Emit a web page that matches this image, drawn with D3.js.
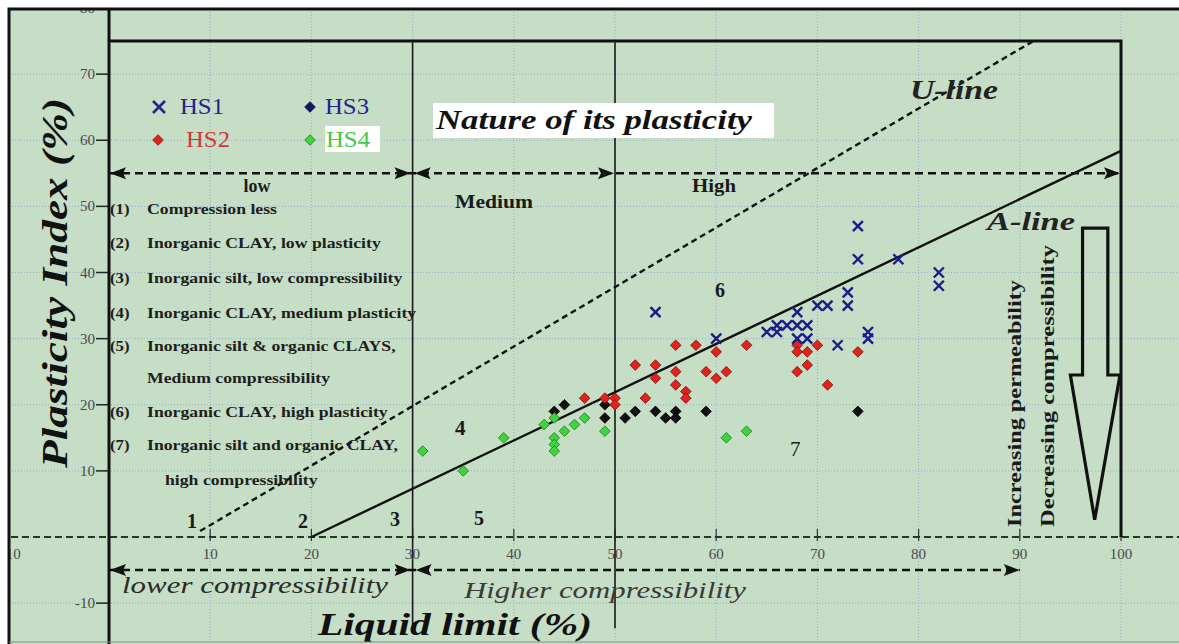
<!DOCTYPE html>
<html>
<head>
<meta charset="utf-8">
<script src="https://cdn.jsdelivr.net/npm/d3@7"></script>
<style>
  html, body { margin: 0; padding: 0; background: #ffffff; }
  svg { display: block; }
  text { font-family: "Liberation Serif", "Times New Roman", "DejaVu Serif", serif; }
</style>
</head>
<body>
<svg id="chart" width="1179" height="644"></svg>
<script>
// ---- Data: liquid limit (LL, %) and plasticity index (PI, %) per sample ----
const hs1 = [[54,34],[60,30],[65,31],[66,32],[66,31],[67,32],[68,34],[68,32],[68,30],
             [69,32],[69,30],[70,35],[71,35],[72,29],[73,37],[73,35],[74,47],[74,42],
             [75,31],[75,30],[78,42],[82,40],[82,38]];
const hs2 = [[47,21],[49,21],[50,21],[50,20],[52,26],[53,21],[54,26],[54,24],[56,29],
             [56,25],[56,23],[57,22],[57,21],[58,29],[59,25],[60,28],[60,24],[61,25],
             [63,29],[68,29],[68,28],[68,25],[69,28],[69,26],[70,29],[71,23],[74,28]];
const hs3 = [[44,19],[45,20],[49,20],[49,18],[51,18],[52,19],[54,19],[55,18],[56,19],
             [56,18],[59,19],[74,19]];
const hs4 = [[31,13],[35,10],[39,15],[43,17],[44,18],[44,15],[44,14],[44,13],[45,16],
             [46,17],[47,18],[49,16],[61,15],[63,16]];

const seriesNames = ["HS1", "HS2", "HS3", "HS4"];
const xTickValues = [-10, 0, 10, 20, 30, 40, 50, 60, 70, 80, 90, 100];
const yTickValues = [-10, 10, 20, 30, 40, 50, 60, 70, 80];

// soil group notes: [number, description]
const zoneNotes = [
  ["(1)", "Compression less"],
  ["(2)", "Inorganic CLAY, low plasticity"],
  ["(3)", "Inorganic silt, low compressibility"],
  ["(4)", "Inorganic CLAY, medium plasticity"],
  ["(5)", "Inorganic silt & organic CLAYS,"],
  ["", "Medium compressibility"],
  ["(6)", "Inorganic CLAY, high plasticity"],
  ["(7)", "Inorganic silt and organic CLAY,"],
  ["", "high compressibility"]
];

// ---- Layout ----
const W = 1179, H = 644;
const svg = d3.select("#chart");
const x = d3.scaleLinear().domain([0, 100]).range([109, 1121]);
const y = d3.scaleLinear().domain([0, 80]).range([537, 8]);

const frameL = 9, frameT = 9;
const bg = "#c5dec5";

svg.append("rect").attr("x", 0).attr("y", 0).attr("width", W).attr("height", H).attr("fill", "#ffffff");

svg.append("defs").append("clipPath").attr("id", "plotClip")
  .append("rect").attr("x", frameL + 1).attr("y", frameT + 1)
  .attr("width", W - frameL).attr("height", H - frameT);

const g = svg.append("g").attr("clip-path", "url(#plotClip)");
g.append("rect").attr("x", frameL).attr("y", frameT).attr("width", W - frameL).attr("height", H - frameT).attr("fill", bg);

// dotted grid
const gridColor = "#98add0";
g.append("g").selectAll("line").data(d3.range(-10, 101, 10)).join("line")
  .attr("x1", d => x(d)).attr("x2", d => x(d)).attr("y1", 0).attr("y2", H)
  .attr("stroke", gridColor).attr("stroke-width", 1).attr("stroke-dasharray", "1,2");
g.append("g").selectAll("line").data(d3.range(-10, 81, 10)).join("line")
  .attr("y1", d => y(d)).attr("y2", d => y(d)).attr("x1", 0).attr("x2", W)
  .attr("stroke", gridColor).attr("stroke-width", 1).attr("stroke-dasharray", "1,2");

// zero line (dashed)
g.append("line").attr("x1", 0).attr("x2", W).attr("y1", y(0)).attr("y2", y(0))
  .attr("stroke", "#1f3a26").attr("stroke-width", 2).attr("stroke-dasharray", "7,4");

// x ticks and labels
g.append("g").selectAll("line").data(xTickValues.filter(d => d > 0)).join("line")
  .attr("x1", d => x(d)).attr("x2", d => x(d)).attr("y1", y(0) - 8).attr("y2", y(0) + 4)
  .attr("stroke", "#333").attr("stroke-width", 1.2);
g.append("g").selectAll("text").data(xTickValues.filter(d => d !== 0)).join("text")
  .attr("x", d => x(d) + (d < 0 ? 3 : 0)).attr("y", y(0) + 22)
  .attr("text-anchor", "middle").attr("font-size", 15).attr("fill", "#4a4a4a")
  .text(d => d);

// y ticks and labels
g.append("g").selectAll("line").data(yTickValues).join("line")
  .attr("x1", x(0) - 13).attr("x2", x(0)).attr("y1", d => y(d)).attr("y2", d => y(d))
  .attr("stroke", "#222").attr("stroke-width", 1.5);
g.append("g").selectAll("text").data(yTickValues).join("text")
  .attr("x", x(0) - 14).attr("y", d => y(d) + 5)
  .attr("text-anchor", "end").attr("font-size", 15).attr("fill", "#4a4a4a")
  .text(d => d);

// inner classification box
g.append("path")
  .attr("d", `M${x(0)},${y(75)}H${x(100)}V${y(0)}`)
  .attr("fill", "none").attr("stroke", "#111").attr("stroke-width", 3);
g.append("line").attr("x1", x(30)).attr("x2", x(30)).attr("y1", y(75)).attr("y2", y(-14.4))
  .attr("stroke", "#1a1a1a").attr("stroke-width", 1.6);
g.append("line").attr("x1", x(50)).attr("x2", x(50)).attr("y1", y(75)).attr("y2", y(-13.8))
  .attr("stroke", "#1a1a1a").attr("stroke-width", 1.6);

// y axis line
g.append("line").attr("x1", x(0)).attr("x2", x(0)).attr("y1", 0).attr("y2", H)
  .attr("stroke", "#111").attr("stroke-width", 3);

// A-line and U-line
const aLine = [[20, 0], [100, 0.73 * 80]];
const uLine = [[9, 0.9], [8 + 75 / 0.9, 75]];
const lineGen = d3.line().x(d => x(d[0])).y(d => y(d[1]));
g.append("path").attr("d", lineGen(aLine)).attr("fill", "none").attr("stroke", "#111").attr("stroke-width", 2.4);
g.append("path").attr("d", lineGen(uLine)).attr("fill", "none").attr("stroke", "#111")
  .attr("stroke-width", 2.4).attr("stroke-dasharray", "6,4");

// dashed range arrows
function arrowHead(px, py, dir) {
  const L = 16, Hh = 6;
  g.append("path")
    .attr("d", `M${px},${py}L${px - dir * L},${py - Hh}L${px - dir * (L - 3)},${py}L${px - dir * L},${py + Hh}Z`)
    .attr("fill", "#111");
}
function dashedRange(v, from, to) {
  g.append("line").attr("x1", x(from)).attr("x2", x(to)).attr("y1", y(v)).attr("y2", y(v))
    .attr("stroke", "#111").attr("stroke-width", 2.4).attr("stroke-dasharray", "8,5");
}
dashedRange(55, 0, 100);
arrowHead(x(0) + 1, y(55), -1);
arrowHead(x(30) - 2, y(55), 1);
arrowHead(x(30) + 2, y(55), -1);
arrowHead(x(50) - 1, y(55), 1);
arrowHead(x(100) - 1, y(55), 1);

dashedRange(-5, 0, 90);
arrowHead(x(0) + 1, y(-5), -1);
arrowHead(x(30) - 2, y(-5), 1);
arrowHead(x(30) + 3, y(-5), -1);
arrowHead(x(90), y(-5), 1);

// big hollow arrow on the right
const bigArrow = [[96.2, 46.7], [98.7, 46.7], [98.7, 24.5], [99.9, 24.5], [97.4, 2.6],
                  [95.0, 24.5], [96.2, 24.5]];
g.append("path").attr("d", lineGen(bigArrow) + "Z")
  .attr("fill", "none").attr("stroke", "#111").attr("stroke-width", 3.2).attr("stroke-linejoin", "miter");

// text helpers
function label(txt, px, py, opts = {}) {
  const t = g.append("text").attr("x", px).attr("y", py)
    .attr("font-size", opts.size || 16)
    .attr("font-weight", opts.weight || "bold")
    .attr("font-style", opts.style || "normal")
    .attr("fill", opts.fill || "#1a1a1a")
    .attr("text-anchor", opts.anchor || "start")
    .text(txt);
  if (opts.len) t.attr("textLength", opts.len).attr("lengthAdjust", "spacingAndGlyphs");
  if (opts.stretch) {
    const n = t.node().getComputedTextLength();
    t.attr("textLength", n * opts.stretch).attr("lengthAdjust", "spacingAndGlyphs");
  }
  if (opts.rotate) t.attr("transform", `rotate(-90,${px},${py})`);
  return t;
}

// zone notes
const noteRows = [49.6, 44.5, 39.2, 33.9, 28.9, 24.1, 18.9, 13.9, 8.6];
zoneNotes.forEach(([num, desc], i) => {
  const py = y(noteRows[i]) + 5;
  if (num) label(num, 110, py, { size: 15, fill: "#1e1e1e", stretch: 1.12 });
  label(desc, i === 8 ? 165 : 147, py, { size: 15, fill: "#1e1e1e", stretch: 1.18 });
});

// plasticity ranges
label("low", 257, 192, { size: 18, anchor: "middle" });
label("Medium", 494, 208, { size: 19, anchor: "middle", len: 78 });
label("High", 714, 192, { size: 18, anchor: "middle", len: 44 });

// nature of plasticity title box
g.append("rect").attr("x", 433).attr("y", 103).attr("width", 341).attr("height", 35).attr("fill", "#ffffff");
label("Nature of its plasticity", 436, 129, { size: 27, style: "italic", len: 316, fill: "#111" });

label("U-line", 910, 99, { size: 27, style: "italic", len: 88, fill: "#222" });
label("A-line", 987, 230, { size: 26, style: "italic", len: 88, fill: "#222" });

// zone numbers
label("1", 187, 528, { size: 20 });
label("2", 298, 528, { size: 20 });
label("3", 390, 526, { size: 20 });
label("4", 455, 435, { size: 21 });
label("5", 474, 525, { size: 20 });
label("6", 715, 297, { size: 20 });
label("7", 790, 456, { size: 21, weight: "normal" });

// vertical notes
label("Increasing permeability", 1021, 527, { size: 19, rotate: true, len: 247 });
label("Decreasing compressibility", 1054, 527, { size: 19, rotate: true, len: 282 });

// compressibility labels
label("lower compressibility", 122, 593, { size: 24, weight: "normal", style: "italic", len: 266, fill: "#2a2a2a" });
label("Higher compressibility", 464, 598, { size: 24, weight: "normal", style: "italic", len: 282, fill: "#3a3a3a" });

// axis titles
label("Liquid limit (%)", 318, 635, { size: 31, style: "italic", len: 274, fill: "#111" });
label("Plasticity Index (%)", 67, 468, { size: 36, style: "italic", len: 370, rotate: true, fill: "#111" });

// ---- Data marks ----
const diamond = d3.symbol().type(d3.symbolDiamond2).size(72);
const styles = {
  HS2: { fill: "#e2231c", stroke: "#7a1010" },
  HS3: { fill: "#101010", stroke: "#000000" },
  HS4: { fill: "#3ed43e", stroke: "#1d7a1d" }
};
function drawDiamonds(data, st) {
  g.append("g").selectAll("path").data(data).join("path")
    .attr("d", diamond)
    .attr("transform", d => `translate(${x(d[0])},${y(d[1])})`)
    .attr("fill", st.fill).attr("stroke", st.stroke).attr("stroke-width", 0.8);
}
drawDiamonds(hs3, styles.HS3);
drawDiamonds(hs4, styles.HS4);
drawDiamonds(hs2, styles.HS2);

const xr = 5;
const hs1Color = "#1c1c88";
g.append("g").selectAll("path").data(hs1).join("path")
  .attr("d", d => `M${x(d[0]) - xr},${y(d[1]) - xr}L${x(d[0]) + xr},${y(d[1]) + xr}M${x(d[0]) - xr},${y(d[1]) + xr}L${x(d[0]) + xr},${y(d[1]) - xr}`)
  .attr("stroke", hs1Color).attr("stroke-width", 2.4).attr("fill", "none");

// ---- Legend ----
const legend = g.append("g");
const legendItems = [
  { name: seriesNames[0], mx: 159, my: 107, tx: 180, color: "#24248a", kind: "x" },
  { name: seriesNames[1], mx: 158, my: 140, tx: 186, color: "#d03a36", kind: "d", fill: "#e2231c", stroke: "#7a1010" },
  { name: seriesNames[2], mx: 310, my: 107, tx: 325, color: "#24248a", kind: "d", fill: "#14146a", stroke: "#0a0a40" },
  { name: seriesNames[3], mx: 310, my: 140, tx: 326, color: "#45c845", kind: "d", fill: "#3ed43e", stroke: "#1d7a1d" }
];
legend.append("rect").attr("x", 325).attr("y", 126).attr("width", 55).attr("height", 26).attr("fill", "#ffffff");
legendItems.forEach(it => {
  if (it.kind === "x") {
    const r = 6;
    legend.append("path")
      .attr("d", `M${it.mx - r},${it.my - r}L${it.mx + r},${it.my + r}M${it.mx - r},${it.my + r}L${it.mx + r},${it.my - r}`)
      .attr("stroke", it.color).attr("stroke-width", 2.6);
  } else {
    legend.append("path").attr("d", diamond).attr("transform", `translate(${it.mx},${it.my})`)
      .attr("fill", it.fill).attr("stroke", it.stroke).attr("stroke-width", 0.8);
  }
  legend.append("text").attr("x", it.tx).attr("y", it.my + 7)
    .attr("font-size", 23).attr("fill", it.color)
    .attr("textLength", 44).attr("lengthAdjust", "spacingAndGlyphs").text(it.name);
});

// outer frame
svg.append("path").attr("d", `M${frameL},${H}V${frameT}H${W}`)
  .attr("fill", "none").attr("stroke", "#111").attr("stroke-width", 3);
svg.append("line").attr("x1", frameL).attr("x2", W).attr("y1", H - 2).attr("y2", H - 2)
  .attr("stroke", "#8a8a8a").attr("stroke-width", 1);
</script>
</body>
</html>
